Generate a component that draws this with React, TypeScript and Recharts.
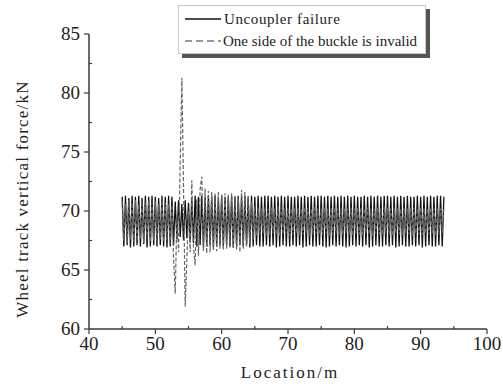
import React from "react";
import { LineChart, Line, XAxis, YAxis, Legend } from "recharts";

// sampling positions along the track (m)
const LOCATION = [
  45, 45.25, 45.5, 45.75, 46, 46.25, 46.5, 46.75,
  47, 47.25, 47.5, 47.75, 48, 48.25, 48.5, 48.75,
  49, 49.25, 49.5, 49.75, 50, 50.25, 50.5, 50.75,
  51, 51.25, 51.5, 51.75, 52, 52.25, 52.5, 52.75,
  53, 53.25, 53.5, 53.75, 54, 54.25, 54.5, 54.75,
  55, 55.25, 55.5, 55.75, 56, 56.25, 56.5, 56.75,
  57, 57.25, 57.5, 57.75, 58, 58.25, 58.5, 58.75,
  59, 59.25, 59.5, 59.75, 60, 60.25, 60.5, 60.75,
  61, 61.25, 61.5, 61.75, 62, 62.25, 62.5, 62.75,
  63, 63.25, 63.5, 63.75, 64, 64.25, 64.5, 64.75,
  65, 65.25, 65.5, 65.75, 66, 66.25, 66.5, 66.75,
  67, 67.25, 67.5, 67.75, 68, 68.25, 68.5, 68.75,
  69, 69.25, 69.5, 69.75, 70, 70.25, 70.5, 70.75,
  71, 71.25, 71.5, 71.75, 72, 72.25, 72.5, 72.75,
  73, 73.25, 73.5, 73.75, 74, 74.25, 74.5, 74.75,
  75, 75.25, 75.5, 75.75, 76, 76.25, 76.5, 76.75,
  77, 77.25, 77.5, 77.75, 78, 78.25, 78.5, 78.75,
  79, 79.25, 79.5, 79.75, 80, 80.25, 80.5, 80.75,
  81, 81.25, 81.5, 81.75, 82, 82.25, 82.5, 82.75,
  83, 83.25, 83.5, 83.75, 84, 84.25, 84.5, 84.75,
  85, 85.25, 85.5, 85.75, 86, 86.25, 86.5, 86.75,
  87, 87.25, 87.5, 87.75, 88, 88.25, 88.5, 88.75,
  89, 89.25, 89.5, 89.75, 90, 90.25, 90.5, 90.75,
  91, 91.25, 91.5, 91.75, 92, 92.25, 92.5, 92.75,
  93, 93.25, 93.5,
];

// Uncoupler failure (kN)
const UNCOUPLER = [
  71.2, 67.0, 71.3, 67.1, 71.1, 66.9, 71.3, 67.0,
  71.2, 67.1, 71.3, 67.0, 71.1, 67.2, 71.3, 66.9,
  71.2, 67.0, 71.3, 67.1, 71.2, 67.0, 71.1, 67.1,
  71.3, 67.0, 71.2, 66.9, 71.3, 67.0, 71.2, 67.1,
  70.8, 67.6, 70.9, 67.8, 70.6, 67.5, 70.9, 67.7,
  70.7, 67.4, 71.0, 67.3, 71.3, 67.0, 71.2, 67.1,
  71.3, 66.9, 71.2, 67.0, 71.3, 67.1, 71.2, 66.9,
  71.3, 67.0, 71.1, 67.1, 71.3, 67.0, 71.2, 67.1,
  71.2, 67.0, 71.3, 66.9, 71.2, 67.0, 71.3, 67.1,
  71.2, 67.0, 71.3, 67.1, 71.2, 66.9, 71.3, 67.0,
  71.2, 67.1, 71.3, 67.0, 71.2, 67.0, 71.3, 67.1,
  71.3, 67.0, 71.2, 67.1, 71.3, 66.9, 71.2, 67.0,
  71.3, 67.1, 71.2, 67.0, 71.3, 67.0, 71.2, 67.1,
  71.2, 67.0, 71.3, 67.1, 71.2, 66.9, 71.3, 67.0,
  71.2, 67.1, 71.3, 67.0, 71.2, 67.0, 71.3, 67.1,
  71.3, 67.0, 71.2, 66.9, 71.3, 67.0, 71.2, 67.1,
  71.3, 67.0, 71.2, 67.1, 71.3, 67.0, 71.2, 66.9,
  71.3, 67.0, 71.2, 67.1, 71.3, 67.0, 71.2, 67.1,
  71.2, 67.0, 71.3, 67.1, 71.2, 66.9, 71.3, 67.0,
  71.2, 67.1, 71.3, 67.0, 71.2, 67.0, 71.3, 67.1,
  71.3, 67.0, 71.2, 67.1, 71.3, 66.9, 71.2, 67.0,
  71.3, 67.1, 71.2, 67.0, 71.3, 67.0, 71.2, 67.1,
  71.2, 67.0, 71.3, 67.1, 71.2, 66.9, 71.3, 67.0,
  71.2, 67.1, 71.3, 67.0, 71.2, 67.0, 71.3, 67.1,
  71.3, 67.0, 71.2,
];

// One side of the buckle is invalid (kN)
const INVALID = [
  70.8, 67.5, 70.6, 67.3, 70.9, 67.6, 70.7, 67.4,
  70.9, 67.5, 70.6, 67.7, 70.8, 67.3, 70.7, 67.6,
  70.9, 67.4, 70.7, 67.5, 70.8, 67.3, 70.6, 67.6,
  70.9, 67.4, 70.7, 67.5, 70.6, 67.2, 70.5, 66.0,
  63.0, 69.5, 66.5, 74.0, 81.3, 72.0, 61.9, 65.8,
  70.0, 66.5, 72.6, 67.0, 65.4, 71.0, 66.2, 71.8,
  72.9, 66.6, 71.9, 66.4, 71.7, 66.5, 71.6, 66.7,
  71.5, 66.6, 71.6, 66.8, 71.4, 66.7, 71.5, 66.8,
  71.4, 66.9, 71.5, 66.8, 71.3, 66.7, 71.2, 66.5,
  71.8, 66.8, 71.6, 67.0, 71.3, 67.2, 70.8, 67.6,
  70.4, 67.9, 70.3, 68.0, 70.2, 68.1, 70.3, 67.9,
  70.2, 68.0, 70.3, 68.1, 70.2, 68.0, 70.4, 67.9,
  70.3, 68.0, 70.2, 68.1, 70.3, 67.9, 70.2, 68.0,
  70.2, 68.1, 70.3, 68.0, 70.2, 68.0, 70.3, 68.1,
  70.3, 67.9, 70.2, 68.0, 70.4, 68.1, 70.2, 68.0,
  70.2, 68.0, 70.3, 68.1, 70.2, 67.9, 70.3, 68.0,
  70.3, 68.1, 70.2, 68.0, 70.3, 68.0, 70.2, 68.1,
  70.2, 68.0, 70.3, 67.9, 70.2, 68.1, 70.3, 68.0,
  70.3, 68.0, 70.2, 68.1, 70.3, 68.0, 70.2, 67.9,
  70.2, 68.1, 70.3, 68.0, 70.2, 68.0, 70.4, 68.1,
  70.3, 68.0, 70.2, 67.9, 70.3, 68.1, 70.2, 68.0,
  70.2, 68.0, 70.3, 68.1, 70.2, 68.0, 70.3, 67.9,
  70.3, 68.1, 70.2, 68.0, 70.3, 68.0, 70.2, 68.1,
  70.2, 68.0, 70.3, 68.1, 70.2, 67.9, 70.3, 68.0,
  70.2, 68.1, 70.3,
];

const X_TICKS = [40, 45, 50, 55, 60, 65, 70, 75, 80, 85, 90, 95, 100];
const Y_TICKS = [60, 62.5, 65, 67.5, 70, 72.5, 75, 77.5, 80, 82.5, 85];

const FONT = "'Liberation Serif', 'DejaVu Serif', serif";
const AXIS = "#3a3a3a";
const INK = "#222";

const rows = LOCATION.map((x, i) => ({ x, a: UNCOUPLER[i], b: INVALID[i] }));

function XTick(props: any) {
  const { x, y, payload } = props;
  const major = payload.value % 10 === 0;
  if (!major) return <line x1={x} x2={x} y1={y} y2={y - 3} stroke={AXIS} strokeWidth={1.2} />;
  return (
    <g>
      <line x1={x} x2={x} y1={y} y2={y + 5} stroke={AXIS} strokeWidth={1.2} />
      <text x={x} y={y + 21} textAnchor="middle" fontFamily={FONT} fontSize={19} fill={INK}>
        {payload.value}
      </text>
    </g>
  );
}

function YTick(props: any) {
  const { x, y, payload } = props;
  const major = payload.value % 5 === 0;
  if (!major) return <line x1={x} x2={x + 3} y1={y} y2={y} stroke={AXIS} strokeWidth={1.2} />;
  return (
    <g>
      <line x1={x - 5} x2={x} y1={y} y2={y} stroke={AXIS} strokeWidth={1.2} />
      <text x={x - 9} y={y + 6} textAnchor="end" fontFamily={FONT} fontSize={19} fill={INK}>
        {payload.value}
      </text>
    </g>
  );
}

function LegendBox() {
  const row: React.CSSProperties = { display: "flex", alignItems: "center", height: 22 };
  return (
    <div
      style={{
        background: "#fff",
        border: "1px solid #c8c8c8",
        boxShadow: "4px 4px 0 #555",
        padding: "2px 8px 1px 5px",
        fontFamily: FONT,
        fontSize: 15,
        color: INK,
        lineHeight: "22px",
      }}
    >
      <div style={row}>
        <svg width={38} height={6}>
          <line x1={1} x2={37} y1={3} y2={3} stroke="#111" strokeWidth={1.5} />
        </svg>
        <span style={{ marginLeft: 2, letterSpacing: 0.6 }}>Uncoupler failure</span>
      </div>
      <div style={row}>
        <svg width={38} height={6}>
          <line x1={1} x2={37} y1={3} y2={3} stroke="#777" strokeWidth={1.5} strokeDasharray="7 4" />
        </svg>
        <span style={{ marginLeft: 1 }}>One side of the buckle is invalid</span>
      </div>
    </div>
  );
}

export default function App() {
  return (
    <div style={{ position: "absolute", left: 0, top: 0, width: 503, height: 387, background: "#fff" }}>
      <LineChart width={503} height={387} data={rows} margin={{ top: 34, right: 16, bottom: 0, left: 0 }}>
        <XAxis
          dataKey="x"
          type="number"
          domain={[40, 100]}
          ticks={X_TICKS}
          interval={0}
          tickSize={0}
          tickMargin={0}
          tickLine={false}
          tick={<XTick />}
          height={58}
          stroke={AXIS}
          strokeWidth={1.5}
          label={{
            content: () => (
              <text x={290} y={378} textAnchor="middle" fontFamily={FONT} fontSize={17} letterSpacing={2} fill={INK}>
                Location/m
              </text>
            ),
          }}
        />
        <YAxis
          type="number"
          domain={[60, 85]}
          ticks={Y_TICKS}
          interval={0}
          tickSize={0}
          tickMargin={0}
          tickLine={false}
          tick={<YTick />}
          width={89}
          stroke={AXIS}
          strokeWidth={1.5}
          label={{
            content: () => (
              <text
                transform="translate(28,199) rotate(-90)"
                textAnchor="middle"
                fontFamily={FONT}
                fontSize={17}
                letterSpacing={1.2}
                fill={INK}
              >
                Wheel track vertical force/kN
              </text>
            ),
          }}
        />
        <Legend
          layout="horizontal"
          verticalAlign="middle"
          align="center"
          content={() => <LegendBox />}
          wrapperStyle={{ position: "absolute", top: 5, left: 178, width: "auto" }}
        />
        <Line
          type="linear"
          dataKey="a"
          name="Uncoupler failure"
          stroke="#111"
          strokeWidth={1.3}
          dot={false}
          isAnimationActive={false}
        />
        <Line
          type="linear"
          dataKey="b"
          name="One side of the buckle is invalid"
          stroke="#666"
          strokeWidth={1.2}
          strokeDasharray="4 2"
          dot={false}
          isAnimationActive={false}
        />
      </LineChart>
    </div>
  );
}
